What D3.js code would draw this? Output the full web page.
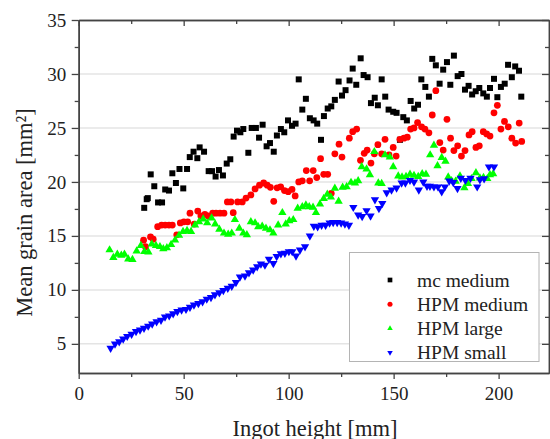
<!DOCTYPE html>
<html>
<head>
<meta charset="utf-8">
<script src="https://cdnjs.cloudflare.com/ajax/libs/d3/7.8.5/d3.min.js"></script>
<style>
  body { margin: 0; background: #fff; }
  svg { display: block; }
  text { font-family: "Liberation Serif", "Times New Roman", serif; fill: #222; }
</style>
</head>
<body>
<div id="graph"></div>
<script>
"use strict";

// values (x: ingot height in mm, y: mean grain area in mm2)
var mcHeight = [31.2,32.4,32.9,34.3,36.0,37.8,39.7,41.2,43.0,44.6,46.3,48.0,49.8,51.6,52.9,54.7,56.5,57.6,59.7,61.9,
  63.5,65.2,66.8,68.7,70.5,72.2,73.8,75.4,77.0,78.4,80.8,82.4,84.4,85.9,87.6,89.5,91.1,92.9,94.4,96.3,
  97.9,99.7,101.6,103.3,104.8,106.5,108.2,110.1,111.9,113.6,115.4,116.8,118.6,120.3,122.0,123.8,125.4,127.1,129.0,130.5,
  132.2,134.3,135.7,137.6,139.2,141.0,142.5,144.3,146.0,147.6,149.8,151.4,153.0,154.6,156.3,158.1,159.8,161.6,163.2,165.1,
  166.8,168.4,170.1,171.9,173.6,175.4,177.0,178.7,180.5,182.3,184.0,185.7,187.4,189.1,190.8,192.7,194.4,195.9,197.8,199.4,
  201.1,202.9,204.5,206.3,207.9,209.7,210.8];
var mcArea = [17.6,18.4,18.5,20.7,19.6,18.1,18.1,19.3,19.2,20.8,19.9,21.2,19.4,21.2,22.3,22.8,22.2,23.2,22.8,21.0,
  21.0,20.5,21.1,20.6,21.7,22.1,24.2,24.75,24.6,24.9,22.7,25.0,25.0,24.1,25.3,23.3,23.6,22.8,24.3,24.9,
  24.6,25.7,25.2,25.4,29.5,26.7,27.7,25.9,25.7,25.4,23.9,26.1,26.8,27.0,27.6,29.3,28.0,28.5,29.4,30.5,
  29.0,31.45,29.9,29.7,27.3,27.8,27.1,29.5,27.9,26.7,26.5,26.4,23.9,26.0,25.7,27.5,26.8,27.15,29.5,28.8,
  27.9,31.4,30.8,29.1,30.4,31.1,29.0,31.7,29.8,30.0,28.55,28.9,28.1,28.4,28.7,28.2,27.9,28.7,29.55,27.85,
  28.8,29.1,30.85,29.7,30.7,30.3,27.9];

var hpmMediumHeight = [30.9,31.8,34.2,35.5,37.6,39.5,41.2,43.0,44.6,46.7,48.4,50.1,51.9,53.0,55.0,56.7,58.2,60.1,61.7,63.8,
  65.4,67.3,69.2,70.8,72.5,73.6,75.7,77.9,79.7,82.0,84.0,86.1,88.1,89.8,91.3,92.9,94.5,96.2,98.0,99.8,
  101.6,103.1,104.8,106.5,108.4,110.0,111.7,113.4,115.2,116.7,118.6,120.3,122.0,124.0,125.4,128.9,130.5,132.4,134.2,136.0,
  137.4,139.2,140.8,142.5,144.3,145.9,147.8,149.8,151.2,153.0,154.9,156.5,158.1,159.7,161.4,163.3,164.9,166.8,168.4,170.1,
  172.0,173.6,175.4,177.1,178.7,180.5,182.3,184.0,185.9,187.4,189.2,190.8,192.7,194.3,195.9,197.8,199.4,201.1,202.8,204.6,
  206.3,208.1,209.8,211.0];
var hpmMediumArea = [14.6,14.0,14.9,14.7,15.85,16.0,16.0,16.0,16.0,15.1,16.2,16.3,16.3,17.1,16.1,17.3,16.85,17.0,16.85,17.1,
  17.1,17.1,17.1,18.15,18.15,17.15,18.15,18.15,18.5,18.8,19.35,19.7,19.9,19.7,19.5,18.2,19.45,19.55,19.2,19.1,
  19.3,18.7,20.0,20.1,21.05,20.1,21.05,20.4,22.15,20.7,20.7,18.95,22.6,23.5,22.3,24.05,24.65,24.9,22.0,22.65,
  22.95,21.75,22.6,23.45,22.6,23.95,22.5,23.2,22.4,23.95,24.05,24.15,24.9,25.0,25.5,25.1,24.9,24.55,26.2,28.45,
  23.65,22.95,25.8,24.05,22.9,23.35,22.4,22.9,24.35,24.65,23.2,23.35,24.65,24.45,24.25,26.4,27.1,24.9,25.6,25.1,
  24.05,23.6,25.45,23.75];

var hpmLargeHeight = [14.7,16.5,18.4,20.3,21.8,23.6,25.6,27.6,29.6,31.3,33.2,34.8,36.8,38.7,40.3,42.0,44.0,45.9,47.8,49.7,
  51.6,53.5,55.4,57.3,59.3,61.2,63.3,65.0,67.0,69.2,71.2,72.9,74.4,76.5,78.4,80.1,82.0,84.0,85.5,87.4,
  89.2,91.1,92.7,95.0,97.0,98.6,100.3,102.2,104.3,106.5,108.2,109.8,111.6,113.0,114.9,116.7,118.4,120.1,122.0,123.8,
  125.7,127.6,129.7,131.6,133.1,134.8,137.1,138.7,140.8,142.7,144.3,145.9,148.2,149.8,152.2,154.0,155.9,157.8,159.7,161.7,
  163.6,165.4,167.4,169.2,170.9,172.9,174.7,176.0,177.6,179.5,181.6,183.7,185.4,187.1,189.2,191.1,192.8,194.6,195.9,197.4];
var hpmLargeArea = [13.7,13.0,13.3,13.2,13.3,12.85,12.8,13.6,14.1,13.55,13.5,14.25,14.1,14.0,13.8,13.9,14.2,14.6,15.05,15.4,
  15.5,15.4,16.0,16.3,16.55,16.2,16.65,16.1,15.6,15.25,15.15,15.25,16.5,15.7,15.25,15.1,16.3,16.2,15.85,15.9,
  15.7,15.55,15.25,16.0,17.15,16.1,16.4,16.5,17.55,17.7,17.85,17.7,17.65,17.15,17.95,18.45,18.85,18.6,19.4,18.2,
  19.5,19.55,19.95,19.9,20.1,21.4,21.2,20.65,22.8,19.9,19.85,22.5,22.3,21.4,20.55,20.45,20.5,20.7,20.6,20.5,
  20.75,20.7,22.5,23.4,21.5,22.25,21.9,20.45,20.1,20.05,20.55,19.45,19.85,20.3,20.85,20.35,20.4,20.3,20.65,20.75];

var hpmSmallHeight = [15.2,17.3,19.3,21.2,23.1,25.2,27.3,29.2,31.1,33.1,35.0,37.1,39.2,41.1,43.1,45.0,47.0,49.0,51.1,53.0,
  54.9,57.0,59.0,61.0,63.0,64.9,67.0,68.9,71.0,72.9,74.9,76.8,79.2,81.1,83.1,85.0,86.8,88.7,90.6,92.7,
  94.3,96.3,98.2,100.1,101.7,103.5,105.4,107.8,110.1,112.0,113.8,115.7,117.6,119.5,121.2,123.1,125.0,126.8,128.7,130.8,
  133.1,135.0,137.1,139.0,141.1,143.0,144.6,146.7,149.0,151.4,153.8,155.6,157.8,159.7,162.0,164.1,165.9,167.3,169.2,171.1,
  172.9,174.4,176.5,178.4,180.4,182.0,184.2,186.6,189.8,191.1,193.1,195.4,197.8];
var hpmSmallArea = [4.6,5.0,5.2,5.45,5.7,5.9,6.15,6.3,6.45,6.65,6.85,7.05,7.2,7.5,7.6,7.8,8.0,8.15,8.2,8.4,
  8.6,8.75,8.9,9.15,9.3,9.55,9.75,9.95,10.15,10.35,10.7,11.2,11.3,11.6,11.85,12.15,12.4,12.3,12.85,12.45,
  13.1,13.35,13.4,13.55,13.55,13.15,13.7,14.0,15.0,15.9,15.85,16.0,16.0,16.2,16.25,16.25,16.2,16.1,16.0,17.65,
  16.95,16.8,17.35,16.85,18.35,17.55,18.0,19.0,19.25,19.45,19.9,19.9,20.15,20.0,19.25,20.0,19.6,19.6,19.55,19.55,
  19.1,19.55,20.1,19.95,19.4,20.35,20.15,20.35,19.55,20.2,20.3,21.4,21.4];

var seriesNames = ["mc medium", "HPM medium", "HPM large", "HPM small"];
var seriesColors = ["#000000", "#ff0000", "#00ff00", "#0000ff"];

var xTicks = [0, 50, 100, 150, 200];
var xMinorTicks = [25, 75, 125, 175];
var yTicks = [5, 10, 15, 20, 25, 30, 35];
var yMinorTicks = [7.5, 12.5, 17.5, 22.5, 27.5, 32.5];
var gridValues = [5, 10, 15, 20, 25, 30];

var width = 550, height = 439;
var margin = {top: 20, right: 1, bottom: 66, left: 78.7};
var serif = "'Liberation Serif', 'Times New Roman', serif";

var svg = d3.select("#graph").append("svg")
  .attr("width", width)
  .attr("height", height);

var x = d3.scaleLinear().domain([0, 224]).range([margin.left, width - margin.right]);
var y = d3.scaleLinear().domain([2.3, 35]).range([height - margin.bottom, margin.top]);

var axisColor = "#444";

//light horizontal grid
svg.append("g").selectAll("line")
  .data(gridValues)
  .enter().append("line")
    .attr("x1", x(0)).attr("x2", x(224))
    .attr("y1", function(d) { return y(d); })
    .attr("y2", function(d) { return y(d); })
    .attr("stroke", "#e4e4e4")
    .attr("stroke-width", 1.5);

function styleAxis(g) {
  g.style("font-family", serif);
  g.select(".domain").attr("stroke", axisColor).attr("stroke-width", 1.5);
  g.selectAll(".tick line").attr("stroke", axisColor).attr("stroke-width", 1.3);
  g.selectAll(".tick text")
    .style("font-family", serif)
    .style("font-size", "19px")
    .attr("fill", "#222");
}

//bottom axis with labels
svg.append("g")
  .attr("transform", "translate(0," + y(2.3) + ")")
  .call(d3.axisBottom(x).tickValues(xTicks).tickSize(6).tickPadding(7.5).tickSizeOuter(0))
  .call(styleAxis);
svg.append("g")
  .attr("transform", "translate(0," + y(2.3) + ")")
  .call(d3.axisBottom(x).tickValues(xMinorTicks).tickSize(4).tickFormat("").tickSizeOuter(0))
  .call(styleAxis);

//top axis, ticks pointing in
svg.append("g")
  .attr("transform", "translate(0," + y(35) + ")")
  .call(d3.axisTop(x).tickValues(xTicks).tickSize(-6).tickFormat("").tickSizeOuter(0))
  .call(styleAxis);
svg.append("g")
  .attr("transform", "translate(0," + y(35) + ")")
  .call(d3.axisTop(x).tickValues(xMinorTicks).tickSize(-4).tickFormat("").tickSizeOuter(0))
  .call(styleAxis);

//left axis with labels
svg.append("g")
  .attr("transform", "translate(" + x(0) + ",0)")
  .call(d3.axisLeft(y).tickValues(yTicks).tickSize(7).tickPadding(5.5).tickSizeOuter(0))
  .call(styleAxis);
svg.append("g")
  .attr("transform", "translate(" + x(0) + ",0)")
  .call(d3.axisLeft(y).tickValues(yMinorTicks).tickSize(4).tickFormat("").tickSizeOuter(0))
  .call(styleAxis);

//right axis, ticks pointing in
svg.append("g")
  .attr("transform", "translate(" + x(224) + ",0)")
  .call(d3.axisRight(y).tickValues(yTicks).tickSize(-7).tickFormat("").tickSizeOuter(0))
  .call(styleAxis);
svg.append("g")
  .attr("transform", "translate(" + x(224) + ",0)")
  .call(d3.axisRight(y).tickValues(yMinorTicks).tickSize(-4).tickFormat("").tickSizeOuter(0))
  .call(styleAxis);

//axis titles
svg.append("text")
  .attr("x", 315)
  .attr("y", 435.5)
  .attr("text-anchor", "middle")
  .attr("font-size", 22.5)
  .text("Ingot height [mm]");

svg.append("text")
  .attr("transform", "translate(32,212.5) rotate(-90)")
  .attr("text-anchor", "middle")
  .attr("font-size", 22.5)
  .text("Mean grain area [mm²]");

//markers
var shapes = [d3.symbolSquare, d3.symbolCircle, d3.symbolTriangle, d3.symbolTriangle];
var sizes = [36, 36, 30, 30];
var rotations = [0, 0, 0, 180];
var heights = [mcHeight, hpmMediumHeight, hpmLargeHeight, hpmSmallHeight];
var areas = [mcArea, hpmMediumArea, hpmLargeArea, hpmSmallArea];

heights.forEach(function(hs, i) {
  var pts = hs.map(function(h, j) { return {h: h, a: areas[i][j]}; });
  svg.append("g").selectAll("path")
    .data(pts)
    .enter().append("path")
      .attr("d", d3.symbol().type(shapes[i]).size(sizes[i]))
      .attr("transform", function(d) {
        return "translate(" + x(d.h) + "," + y(d.a) + ") rotate(" + rotations[i] + ")";
      })
      .attr("fill", seriesColors[i]);
});

//legend
var legend = svg.append("g");
legend.append("rect")
  .attr("x", 349.5).attr("y", 252.5)
  .attr("width", 189.5).attr("height", 109)
  .attr("fill", "#fff")
  .attr("stroke", "#b4b4b4")
  .attr("stroke-width", 1);

var legendSizes = [22, 20, 13, 13];
seriesNames.forEach(function(name, i) {
  var ry = 280 + i * 24.2;
  legend.append("path")
    .attr("d", d3.symbol().type(shapes[i]).size(legendSizes[i]))
    .attr("transform", "translate(390," + ry + ") rotate(" + rotations[i] + ")")
    .attr("fill", seriesColors[i]);
  legend.append("text")
    .attr("x", 417)
    .attr("y", ry + 6.5)
    .attr("font-size", 19.5)
    .text(name);
});
</script>
</body>
</html>
